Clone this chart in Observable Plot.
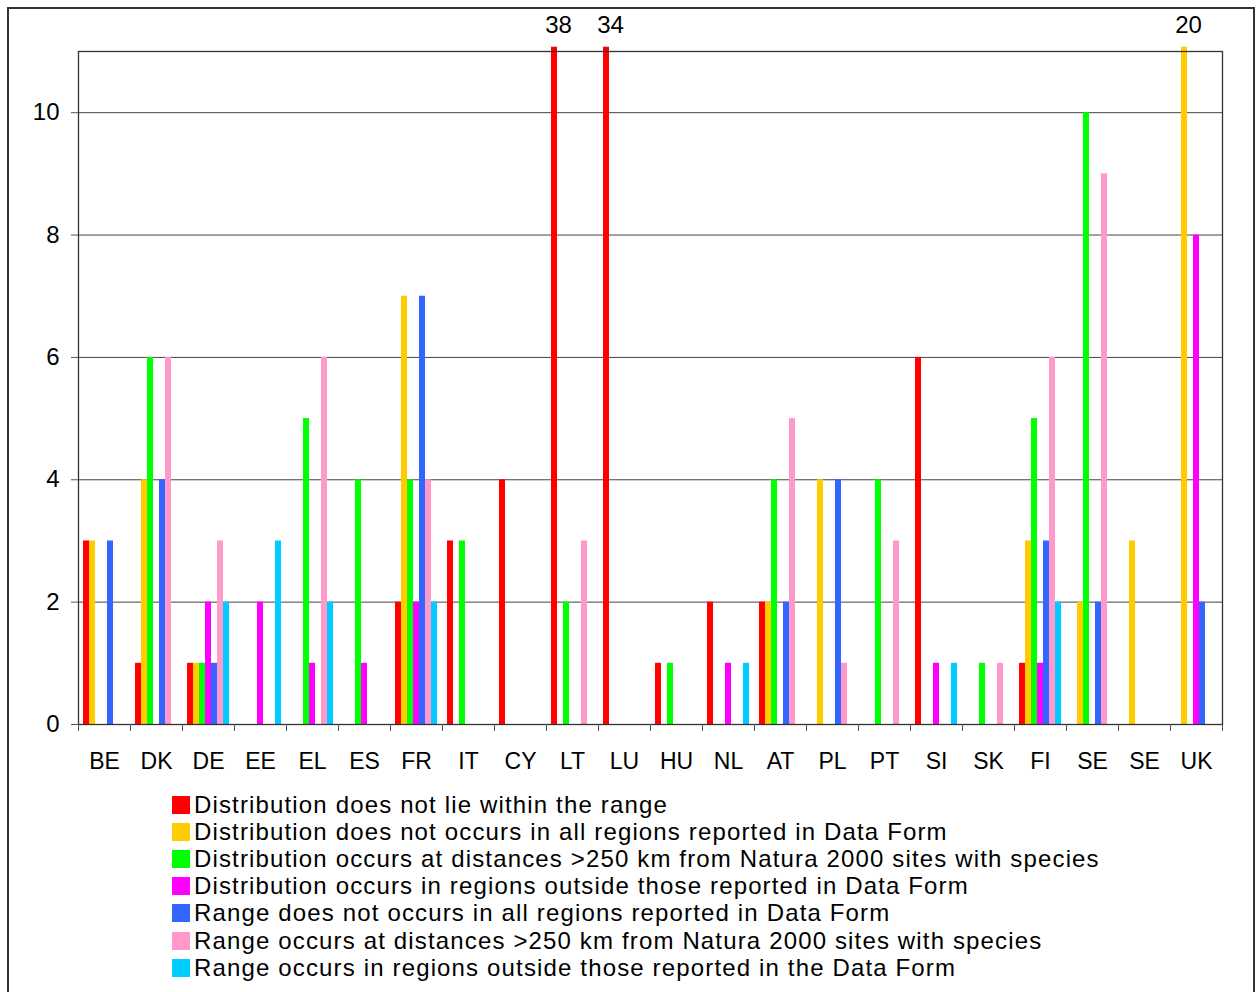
<!DOCTYPE html>
<html>
<head>
<meta charset="utf-8">
<script src="https://cdn.jsdelivr.net/npm/d3@7"></script>
<script src="https://cdn.jsdelivr.net/npm/@observablehq/plot@0.6"></script>
<style>
  body { margin: 0; background: #fff; font-family: "Liberation Sans", Arial, sans-serif; }
  #border { position: absolute; left: 7px; top: 7px; width: 1248px; height: 1000px; border: 2px solid #333; box-sizing: border-box; }
  #chart { position: absolute; left: 0; top: 0; }
  #legend { position: absolute; left: 172px; top: 791px; font-size: 24px; letter-spacing: 1.15px; color: #000; }
  .row { display: flex; align-items: center; height: 27.2px; white-space: nowrap; }
  .sw { width: 18px; height: 18px; margin-right: 4px; flex: none; }
</style>
</head>
<body>
<div id="border"></div>
<div id="chart"></div>
<div id="legend"></div>
<script>
// Member states (Sweden is reported twice)
const countries = ["BE","DK","DE","EE","EL","ES","FR","IT","CY","LT","LU","HU","NL","AT","PL","PT","SI","SK","FI","SE","SE","UK"];

const seriesNames = [
  "Distribution does not lie within the range",
  "Distribution does not occurs in all regions reported in Data Form",
  "Distribution occurs at distances >250 km from Natura 2000 sites with species",
  "Distribution occurs in regions outside those reported in Data Form",
  "Range does not occurs in all regions reported in Data Form",
  "Range occurs at distances >250 km from Natura 2000 sites with species",
  "Range occurs in regions outside those reported in the Data Form"
];
const seriesColors = ["#ff0000", "#ffcc00", "#00ff00", "#ff00ff", "#3366ff", "#ff99cc", "#00ccff"];

// Counts per country, one array per series (same order as countries)
const distNotInRange     = [3,1,1,0,0,0,2,3,4,38,34,1,2,2,0,0,6,0,1,0,0,0];
const distNotAllRegions  = [3,4,1,0,0,0,7,0,0,0,0,0,0,2,4,0,0,0,3,2,3,20];
const distFar            = [0,6,1,0,5,4,4,3,0,2,0,1,0,4,0,4,0,1,5,10,0,0];
const distOutside        = [0,0,2,2,1,1,2,0,0,0,0,0,1,0,0,0,1,0,1,0,0,8];
const rangeNotAllRegions = [3,4,1,0,0,0,7,0,0,0,0,0,0,2,4,0,0,0,3,2,0,2];
const rangeFar           = [0,6,3,0,6,0,4,0,0,3,0,0,0,5,1,3,0,1,6,9,0,0];
const rangeOutside       = [0,0,2,3,2,0,2,0,0,0,0,0,1,0,0,0,1,0,2,0,0,0];

const seriesValues = [distNotInRange, distNotAllRegions, distFar, distOutside, rangeNotAllRegions, rangeFar, rangeOutside];

const yTicks = [0, 2, 4, 6, 8, 10];
const yMax = 11;
// bars beyond the axis are cut just above the top of the plot area
const yCap = yMax + 0.07;

const rows = [];
countries.forEach((c, i) => {
  seriesValues.forEach((vals, s) => {
    rows.push({group: i, series: seriesNames[s], value: vals[i]});
  });
});
const bars = rows.filter(d => d.value > 0);
const overflow = rows.filter(d => d.value > yMax);

const chart = Plot.plot({
  width: 1257,
  height: 785,
  marginLeft: 69,
  marginRight: 26,
  marginTop: 51,
  marginBottom: 61,
  style: {fontFamily: "'Liberation Sans', Arial, sans-serif", fontSize: "23px", color: "#000", background: "transparent", overflow: "visible"},
  fx: {domain: d3.range(countries.length), padding: 0, axis: null},
  x: {domain: seriesNames, paddingInner: 0, paddingOuter: 0.73, axis: null},
  y: {domain: [0, yMax], axis: null},
  color: {domain: seriesNames, range: seriesColors},
  marks: [
    Plot.gridY(yTicks, {stroke: "#444", strokeOpacity: 1, strokeWidth: 1}),
    Plot.barY(bars, {fx: "group", x: "series", y: d => Math.min(d.value, yCap), fill: "series"}),
    Plot.text(overflow, {fx: "group", x: "series", y: d => Math.min(d.value, yCap), text: d => String(d.value), dy: -22, dx: 4, fontSize: 24, fill: "#000"}),
    Plot.frame({facet: "super", stroke: "#333", strokeWidth: 1.3}),
    Plot.frame({anchor: "left", insetTop: 673, insetBottom: -6, stroke: "#555"}),
    Plot.frame({anchor: "right", insetTop: 673, insetBottom: -6, stroke: "#555"}),
    Plot.axisY(yTicks, {tickSize: 7, tickPadding: 12, fontSize: 24, stroke: "#555", tickFormat: d => String(d)}),
    Plot.axisFx({anchor: "bottom", label: null, tickSize: 0, tickPadding: 28, fontSize: 23, tickFormat: i => countries[i]})
  ]
});
document.getElementById("chart").appendChild(chart);

// Legend: one row per series, stacked vertically
const legend = document.getElementById("legend");
seriesNames.forEach((name, i) => {
  const row = document.createElement("div");
  row.className = "row";
  const sw = document.createElement("span");
  sw.className = "sw";
  sw.style.background = seriesColors[i];
  const label = document.createElement("span");
  label.textContent = name;
  row.appendChild(sw);
  row.appendChild(label);
  legend.appendChild(row);
});
</script>
</body>
</html>
